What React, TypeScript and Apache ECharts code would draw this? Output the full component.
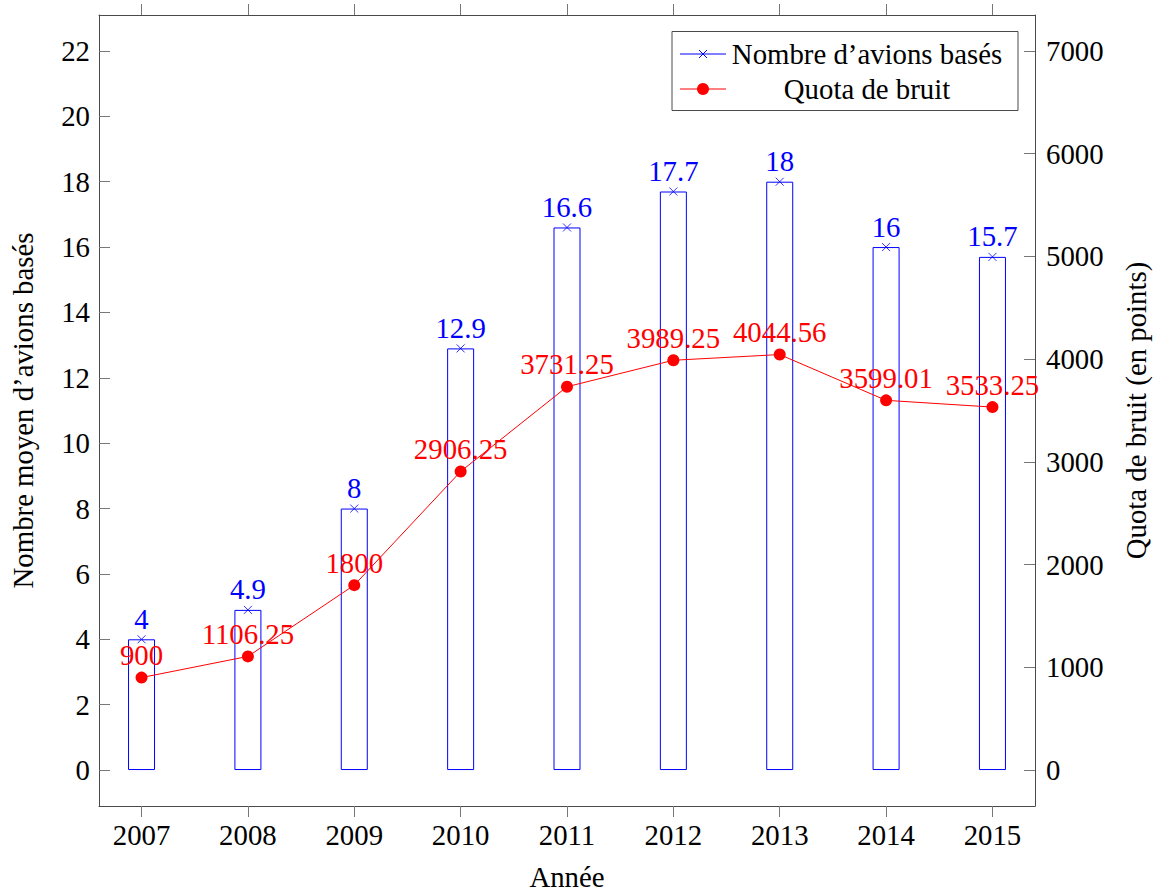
import React, { useEffect, useRef } from "react";
import * as echarts from "echarts";

const years = [2007, 2008, 2009, 2010, 2011, 2012, 2013, 2014, 2015];
const avions = [4, 4.9, 8, 12.9, 16.6, 17.7, 18, 16, 15.7];
const quota = [900, 1106.25, 1800, 2906.25, 3731.25, 3989.25, 4044.56, 3599.01, 3533.25];
const leftTicks = [0, 2, 4, 6, 8, 10, 12, 14, 16, 18, 20, 22];
const rightTicks = [0, 1000, 2000, 3000, 4000, 5000, 6000, 7000];

const FONT = "'Liberation Serif', 'Times New Roman', serif";
const FS = 28.8;
const BLUE = "#0000ff";
const RED = "#ff0000";
const AXIS = "#4a4a4a";
const TICK = "#777777";

export default function App() {
  const ref = useRef<HTMLDivElement>(null);
  useEffect(() => {
    if (!ref.current) return;
    const chart = echarts.init(ref.current, null, { renderer: "svg" });
    const barData = years.map((y, i) => [y, avions[i]]);
    const lineData = years.map((y, i) => [y, quota[i]]);
    const xBase = {
      type: "value",
      min: 2006.6,
      max: 2015.4,
      splitLine: { show: false },
      axisLine: { show: true, onZero: false, lineStyle: { color: AXIS, width: 1 } },
    };
    const option: any = {
      animation: false,
      backgroundColor: "#ffffff",
      textStyle: { fontFamily: FONT },
      grid: { left: 97, right: 122, top: 15, bottom: 88, containLabel: false },
      xAxis: [
        {
          ...xBase,
          position: "bottom",
          name: "Année",
          nameLocation: "middle",
          nameGap: 56,
          nameTextStyle: { fontFamily: FONT, fontSize: FS, color: "#000" },
          axisTick: { show: true, inside: false, length: 11, customValues: years, lineStyle: { color: TICK } },
          axisLabel: {
            show: true,
            customValues: years,
            margin: 14,
            fontFamily: FONT,
            fontSize: FS,
            color: "#000",
            formatter: (v: number) => String(v),
          },
        },
        {
          ...xBase,
          position: "top",
          axisTick: { show: true, inside: false, length: 11, customValues: years, lineStyle: { color: TICK } },
          axisLabel: { show: false },
        },
      ],
      yAxis: [
        {
          type: "value",
          position: "left",
          min: -1.1,
          max: 23.1,
          name: "Nombre moyen d’avions basés",
          nameLocation: "middle",
          nameGap: 62,
          nameTextStyle: { fontFamily: FONT, fontSize: FS, color: "#000" },
          splitLine: { show: false },
          axisLine: { show: true, onZero: false, lineStyle: { color: AXIS, width: 1 } },
          axisTick: { show: true, inside: true, length: 11, customValues: leftTicks, lineStyle: { color: TICK } },
          axisLabel: {
            show: true,
            customValues: leftTicks,
            margin: 9,
            fontFamily: FONT,
            fontSize: FS,
            color: "#000",
            formatter: (v: number) => String(v),
          },
        },
        {
          type: "value",
          position: "right",
          min: -350,
          max: 7350,
          name: "Quota de bruit (en points)",
          nameLocation: "middle",
          nameGap: 86,
          nameTextStyle: { fontFamily: FONT, fontSize: FS, color: "#000" },
          splitLine: { show: false },
          axisLine: { show: true, onZero: false, lineStyle: { color: AXIS, width: 1 } },
          axisTick: { show: true, inside: true, length: 11, customValues: rightTicks, lineStyle: { color: TICK } },
          axisLabel: {
            show: true,
            customValues: rightTicks,
            margin: 11,
            fontFamily: FONT,
            fontSize: FS,
            color: "#000",
            formatter: (v: number) => String(v),
          },
        },
      ],
      series: [
        {
          name: "Nombre d’avions basés",
          type: "bar",
          xAxisIndex: 0,
          yAxisIndex: 0,
          data: barData,
          barWidth: 27,
          itemStyle: { color: "rgba(0,0,0,0)", borderColor: BLUE, borderWidth: 1 },
          label: {
            show: true,
            position: "top",
            distance: 6,
            color: BLUE,
            fontFamily: FONT,
            fontSize: FS,
            formatter: (p: any) => String(p.value[1]),
          },
          z: 2,
        },
        {
          name: "marks",
          type: "scatter",
          xAxisIndex: 0,
          yAxisIndex: 0,
          data: barData,
          symbol: "path://M0,0L10,10M10,0L0,10",
          symbolSize: 8,
          itemStyle: { color: "none", borderColor: BLUE, borderWidth: 1 },
          z: 3,
        },
        {
          name: "Quota de bruit",
          type: "line",
          xAxisIndex: 0,
          yAxisIndex: 1,
          data: lineData,
          symbol: "circle",
          symbolSize: 12,
          showAllSymbol: true,
          lineStyle: { color: RED, width: 1 },
          itemStyle: { color: RED },
          label: {
            show: true,
            position: "top",
            distance: 2,
            color: RED,
            fontFamily: FONT,
            fontSize: FS,
            formatter: (p: any) => String(p.value[1]),
          },
          z: 4,
        },
      ],
      graphic: [
        {
          type: "rect",
          shape: { x: 672, y: 31.5, width: 346, height: 79 },
          style: { fill: "#ffffff", stroke: AXIS, lineWidth: 1 },
          z: 100,
        },
        { type: "line", shape: { x1: 680, y1: 54, x2: 726, y2: 54 }, style: { stroke: BLUE, lineWidth: 1 }, z: 101 },
        { type: "line", shape: { x1: 699, y1: 50, x2: 707, y2: 58 }, style: { stroke: BLUE, lineWidth: 1 }, z: 101 },
        { type: "line", shape: { x1: 707, y1: 50, x2: 699, y2: 58 }, style: { stroke: BLUE, lineWidth: 1 }, z: 101 },
        {
          type: "text",
          x: 867,
          y: 54,
          style: { text: "Nombre d’avions basés", fontFamily: FONT, fontSize: FS, fill: "#000", align: "center", verticalAlign: "middle" },
          z: 101,
        },
        { type: "line", shape: { x1: 680, y1: 89, x2: 726, y2: 89 }, style: { stroke: RED, lineWidth: 1 }, z: 101 },
        { type: "circle", shape: { cx: 703, cy: 89, r: 6 }, style: { fill: RED }, z: 101 },
        {
          type: "text",
          x: 867,
          y: 89,
          style: { text: "Quota de bruit", fontFamily: FONT, fontSize: FS, fill: "#000", align: "center", verticalAlign: "middle" },
          z: 101,
        },
      ],
    };
    chart.setOption(option);
    return () => chart.dispose();
  }, []);
  return (
    <div
      ref={ref}
      style={{ position: "absolute", left: 0, top: 0, width: 1158, height: 896 }}
    />
  );
}
